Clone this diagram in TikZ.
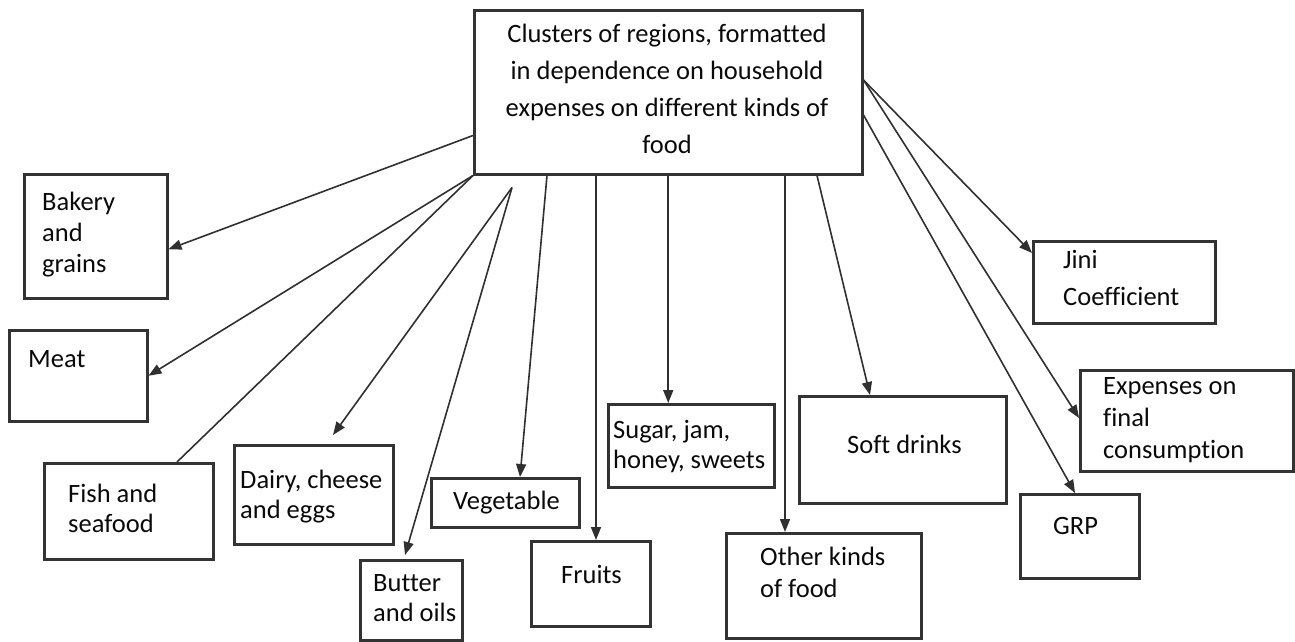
\documentclass[tikz,border=0pt]{standalone}
\usepackage{fontspec}
\setmainfont{Carlito}[Ligatures=NoCommon]
\usepackage{tikz}
\usetikzlibrary{arrows.meta, calc}

\definecolor{boxgray}{HTML}{333333}
\definecolor{linegray}{HTML}{303030}
\definecolor{txtcol}{HTML}{0A0A0A}

\begin{document}
\begin{tikzpicture}[x=1pt, y=-1pt,
    box/.style={rectangle, draw=boxgray, line width=2.5pt, inner sep=0pt, anchor=north west},
    lbl/.style={inner sep=0pt, anchor=north west, align=left, text=txtcol, font=\fontsize{26.5}{#1}\selectfont},
    lbl/.default=30,
    arr/.style={draw=linegray, line width=1.6pt, -{Triangle[length=13pt, width=10pt]}},
    link/.style={draw=linegray, line width=1.6pt}]
        \useasboundingbox (0,0) rectangle (1295,641);

        % Boxes
        \node[box, minimum width=388, minimum height=164] at (473,9) (clusters) {};
        \node[box, minimum width=143, minimum height=124] at (23,173) (bakery) {};
        \node[box, minimum width=138, minimum height=91] at (8,329) (meat) {};
        \node[box, minimum width=169, minimum height=96] at (43,462) (fish) {};
        \node[box, minimum width=159, minimum height=99] at (233,444) (dairy) {};
        \node[box, minimum width=102, minimum height=80] at (359,559) (butter) {};
        \node[box, minimum width=148, minimum height=49] at (430,477) (veg) {};
        \node[box, minimum width=119, minimum height=85] at (530,540) (fruits) {};
        \node[box, minimum width=166, minimum height=83] at (607,403) (sugar) {};
        \node[box, minimum width=207, minimum height=107] at (798,395) (soft) {};
        \node[box, minimum width=195, minimum height=105] at (725,532) (other) {};
        \node[box, minimum width=119, minimum height=84] at (1019,493) (grp) {};
        \node[box, minimum width=213, minimum height=101] at (1079,369) (exp) {};
        \node[box, minimum width=182, minimum height=82] at (1032,240) (jini) {};

        % Texts
        \node[lbl=37, anchor=north, align=center] at (667,24) (clusters-t) {Clusters of regions, formatted\\in dependence on household\\expenses on different kinds of\\food};
        \node[lbl=31] at (42,192) (bakery-t) {Bakery\\and\\grains};
        \node[lbl] at (28,350) (meat-t) {Meat};
        \node[lbl] at (68,484) (fish-t) {Fish and\\seafood};
        \node[lbl] at (240,470) (dairy-t) {Dairy, cheese\\and eggs};
        \node[lbl] at (373,574) (butter-t) {Butter\\and oils};
        \node[lbl] at (453,491) (veg-t) {Vegetable};
        \node[lbl] at (561,565) (fruits-t) {Fruits};
        \node[lbl] at (613,420) (sugar-t) {Sugar, jam,\\honey, sweets};
        \node[lbl] at (847,435) (soft-t) {Soft drinks};
        \node[lbl=32] at (760,547) (other-t) {Other kinds\\of food};
        \node[lbl] at (1053,517) (grp-t) {GRP};
        \node[lbl=32] at (1103,377) (exp-t) {Expenses on\\final\\consumption};
        \node[lbl=37] at (1063,250) (jini-t) {Jini\\Coefficient};

        % Connectors
        \draw[arr] ([yshift=40pt]clusters.south west) -- ([yshift=-13pt]bakery.east);
        \draw[arr] (clusters.south west) -- (meat.east);
        \draw[link] (clusters.south west) -- ([xshift=134pt]fish.north west);
        \draw[arr] ([xshift=39pt, yshift=-12pt]clusters.south west) -- ([xshift=100pt, yshift=9pt]dairy.north west);
        \draw[arr] ([xshift=39pt, yshift=-12pt]clusters.south west) -- ([xshift=46pt, yshift=4pt]butter.north west);
        \draw[arr] ([xshift=74pt]clusters.south west) -- ([xshift=90pt]veg.north west);
        \draw[arr] ([xshift=123pt]clusters.south west) -- ([xshift=66pt]fruits.north west);
        \draw[arr] (clusters.south) -- (clusters.south |- sugar.north);
        \draw[arr] ([xshift=312pt]clusters.south west) -- ([xshift=60pt]other.north west);
        \draw[arr] ([xshift=344pt]clusters.south west) -- ([xshift=72pt]soft.north west);
        \draw[arr] ([yshift=-71pt]clusters.north east) -- ([yshift=-13pt]jini.north west);
        \draw[arr] ([yshift=-71pt]clusters.north east) -- ([yshift=-49pt]exp.north west);
        \draw[arr] ([yshift=-106pt]clusters.north east) -- ([xshift=56pt]grp.north west);
\end{tikzpicture}
\end{document}
